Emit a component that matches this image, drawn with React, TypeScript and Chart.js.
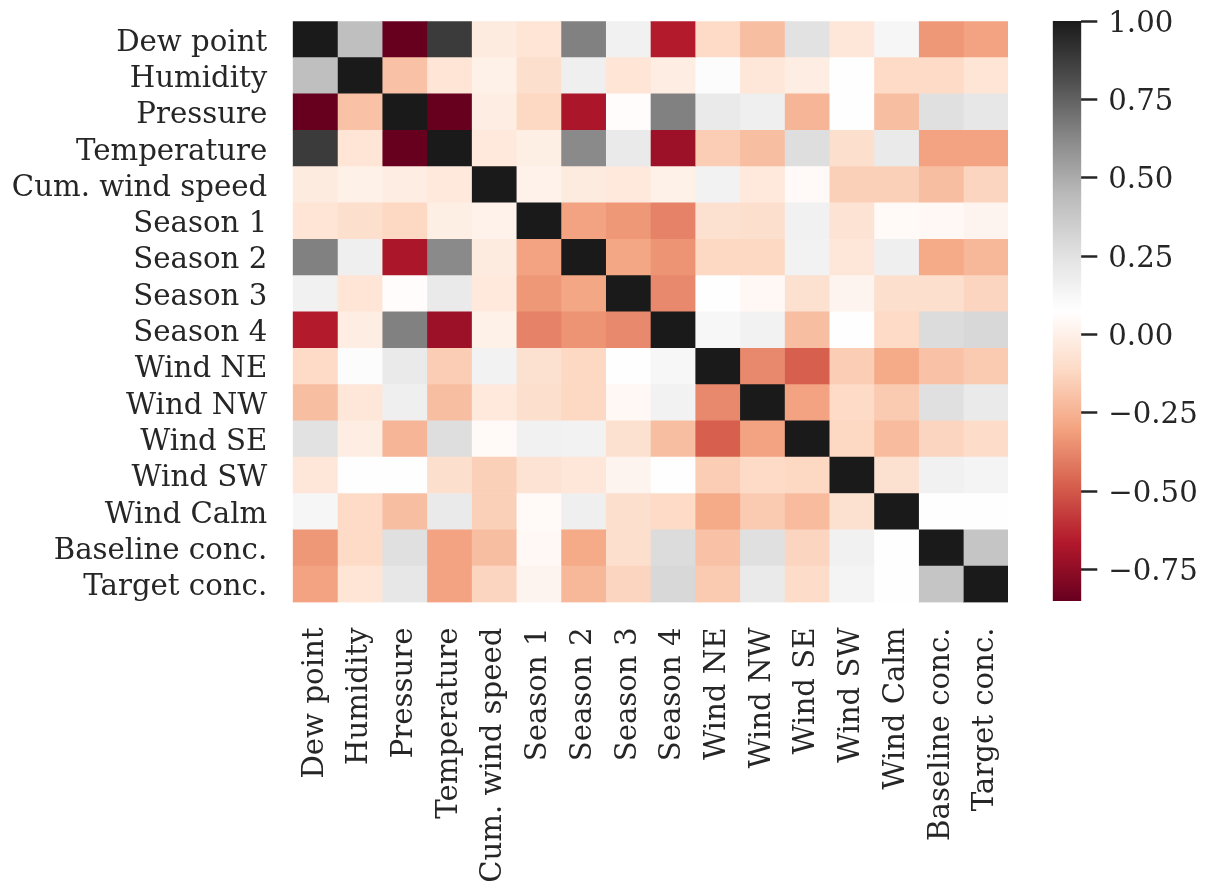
import React, { useEffect, useRef } from "react";
import { Chart, registerables } from "chart.js";

Chart.register(...registerables);

// ---------- data ----------
const variableLabels = [
  "Dew point",
  "Humidity",
  "Pressure",
  "Temperature",
  "Cum. wind speed",
  "Season 1",
  "Season 2",
  "Season 3",
  "Season 4",
  "Wind NE",
  "Wind NW",
  "Wind SE",
  "Wind SW",
  "Wind Calm",
  "Baseline conc.",
  "Target conc.",
];

const dewPoint = [1, 0.42, -0.85, 0.88, -0.03, -0.06, 0.65, 0.16, -0.66, -0.11, -0.21, 0.25, -0.05, 0.13, -0.33, -0.3];
const humidity = [0.42, 1, -0.2, -0.06, 0.0, -0.09, 0.17, -0.06, -0.02, 0.09, -0.05, -0.02, 0.07, -0.11, -0.11, -0.06];
const pressure = [-0.85, -0.2, 1, -0.85, -0.02, -0.12, -0.68, 0.06, 0.65, 0.2, 0.17, -0.24, 0.07, -0.21, 0.26, 0.22];
const temperature = [0.88, -0.06, -0.85, 1, -0.04, -0.01, 0.62, 0.2, -0.72, -0.16, -0.21, 0.27, -0.09, 0.2, -0.3, -0.3];
const cumWindSpeed = [-0.03, 0.0, -0.02, -0.04, 1, 0.01, -0.03, -0.04, 0.0, 0.15, -0.04, 0.05, -0.15, -0.15, -0.21, -0.13];
const season1 = [-0.06, -0.09, -0.12, -0.01, 0.01, 1, -0.3, -0.33, -0.39, -0.08, -0.09, 0.16, -0.07, 0.05, 0.04, 0.02];
const season2 = [0.65, 0.17, -0.68, 0.62, -0.03, -0.3, 1, -0.29, -0.34, -0.12, -0.12, 0.15, -0.05, 0.17, -0.28, -0.23];
const season3 = [0.16, -0.06, 0.06, 0.2, -0.04, -0.33, -0.29, 1, -0.37, 0.07, 0.04, -0.08, 0.02, -0.09, -0.09, -0.13];
const season4 = [-0.66, -0.02, 0.65, -0.72, 0.0, -0.39, -0.34, -0.37, 1, 0.12, 0.15, -0.21, 0.07, -0.11, 0.28, 0.3];
const windNE = [-0.11, 0.09, 0.2, -0.16, 0.15, -0.08, -0.12, 0.07, 0.12, 1, -0.37, -0.48, -0.16, -0.28, -0.2, -0.17];
const windNW = [-0.21, -0.05, 0.17, -0.21, -0.04, -0.09, -0.12, 0.04, 0.15, -0.37, 1, -0.3, -0.11, -0.17, 0.26, 0.2];
const windSE = [0.25, -0.02, -0.24, 0.27, 0.05, 0.16, 0.15, -0.08, -0.21, -0.48, -0.3, 1, -0.12, -0.22, -0.13, -0.1];
const windSW = [-0.05, 0.07, 0.07, -0.09, -0.15, -0.07, -0.05, 0.02, 0.07, -0.16, -0.11, -0.12, 1, -0.08, 0.16, 0.14];
const windCalm = [0.13, -0.11, -0.21, 0.2, -0.15, 0.05, 0.17, -0.09, -0.11, -0.28, -0.17, -0.22, -0.08, 1, 0.07, 0.07];
const baselineConc = [-0.33, -0.11, 0.26, -0.3, -0.21, 0.04, -0.28, -0.09, 0.28, -0.2, 0.26, -0.13, 0.16, 0.07, 1, 0.39];
const targetConc = [-0.3, -0.06, 0.22, -0.3, -0.13, 0.02, -0.23, -0.13, 0.3, -0.17, 0.2, -0.1, 0.14, 0.07, 0.39, 1];

const correlationRows = [
  dewPoint, humidity, pressure, temperature, cumWindSpeed,
  season1, season2, season3, season4,
  windNE, windNW, windSE, windSW, windCalm,
  baselineConc, targetConc,
];

const colorbarMin = -0.851;
const colorbarMax = 1.0;
const colorbarTicks = [-0.75, -0.5, -0.25, 0, 0.25, 0.5, 0.75, 1.0];

// ---------- styling ----------
const rdGy = [
  "#67001f", "#b2182b", "#d6604d", "#f4a582", "#fddbc7", "#ffffff",
  "#e0e0e0", "#bababa", "#878787", "#4d4d4d", "#1a1a1a",
];
const textColor = "#262626";
const labelFont = { family: "'DejaVu Serif', serif", size: 29.2 };

function hexToRgb(h: string): number[] {
  return [parseInt(h.slice(1, 3), 16), parseInt(h.slice(3, 5), 16), parseInt(h.slice(5, 7), 16)];
}
const rdGyRgb = rdGy.map(hexToRgb);

function colorFor(v: number): string {
  let t = (v - colorbarMin) / (colorbarMax - colorbarMin);
  t = Math.max(0, Math.min(1, t));
  const p = t * 10;
  const i = Math.min(9, Math.floor(p));
  const f = p - i;
  const a = rdGyRgb[i];
  const b = rdGyRgb[i + 1];
  const c = a.map((x, k) => Math.round(x + (b[k] - x) * f));
  return `rgb(${c[0]},${c[1]},${c[2]})`;
}

function fmtTick(v: number): string {
  const s = Math.abs(v).toFixed(2);
  return v < 0 ? "\u2212" + s : s;
}

const W = 1211;
const H = 887;
const areaLeft = 292.7;
const areaRight = 1008;
const areaTop = 21.3;
const areaBottom = 602.5;

const cbCanvasLeft = 1040;
const cbLeft = 1052.7;
const cbRight = 1081.3;
const cbTop = 21;
const cbBottom = 601;

export default function App() {
  const mainRef = useRef<HTMLCanvasElement | null>(null);
  const cbRef = useRef<HTMLCanvasElement | null>(null);

  useEffect(() => {
    if (!mainRef.current || !cbRef.current) return;

    const datasets = variableLabels.map((colName, j) => ({
      label: colName,
      data: correlationRows.map(() => 1),
      backgroundColor: correlationRows.map((row) => colorFor(row[j])),
      borderWidth: 0,
      barPercentage: 1,
      categoryPercentage: 1,
      stack: "cells",
    }));

    const main = new Chart(mainRef.current, {
      type: "bar",
      data: { labels: variableLabels, datasets },
      options: {
        animation: false,
        responsive: false,
        maintainAspectRatio: false,
        indexAxis: "y",
        layout: { padding: { left: 0, top: areaTop, right: W - areaRight, bottom: 0 } },
        plugins: { legend: { display: false }, tooltip: { enabled: false } },
        scales: {
          x: {
            type: "linear",
            stacked: true,
            min: 0,
            max: variableLabels.length,
            position: "bottom",
            grid: { display: false, drawTicks: false },
            border: { display: false },
            afterBuildTicks: (s: any) => {
              s.ticks = variableLabels.map((_, i) => ({ value: i + 0.5 }));
            },
            afterFit: (s: any) => {
              s.height = H - areaBottom;
              s.paddingLeft = 0;
              s.paddingRight = 0;
            },
            ticks: {
              autoSkip: false,
              minRotation: 90,
              maxRotation: 90,
              padding: 25,
              color: textColor,
              font: labelFont,
              callback: (_v: any, i: number) => variableLabels[i],
            },
          },
          y: {
            type: "category",
            stacked: true,
            grid: { display: false, drawTicks: false },
            border: { display: false },
            afterFit: (s: any) => {
              s.width = areaLeft;
              s.paddingTop = 0;
              s.paddingBottom = 0;
            },
            ticks: {
              autoSkip: false,
              padding: 25.5,
              labelOffset: 3.5,
              color: textColor,
              font: labelFont,
            },
          },
        },
      } as any,
    });

    const cb = new Chart(cbRef.current, {
      type: "bar",
      data: {
        labels: ["colorbar"],
        datasets: [
          {
            data: [[colorbarMin, colorbarMax]] as any,
            backgroundColor: (ctx: any) => {
              const chart = ctx.chart;
              const area = chart.chartArea;
              if (!area) return rdGy[5];
              const g = chart.ctx.createLinearGradient(0, area.bottom, 0, area.top);
              rdGy.forEach((c, i) => g.addColorStop(i / 10, c));
              return g;
            },
            borderWidth: 0,
            barPercentage: 1,
            categoryPercentage: 1,
          },
        ],
      },
      options: {
        animation: false,
        responsive: false,
        maintainAspectRatio: false,
        layout: {
          padding: { left: cbLeft - cbCanvasLeft, top: cbTop, right: 0, bottom: H - cbBottom },
        },
        plugins: { legend: { display: false }, tooltip: { enabled: false } },
        scales: {
          x: { display: false },
          y: {
            type: "linear",
            position: "right",
            min: colorbarMin,
            max: colorbarMax,
            afterBuildTicks: (s: any) => {
              s.ticks = colorbarTicks.map((v) => ({ value: v }));
            },
            afterFit: (s: any) => {
              s.width = W - cbCanvasLeft - (cbRight - cbCanvasLeft);
              s.paddingTop = 0;
              s.paddingBottom = 0;
            },
            grid: {
              drawOnChartArea: false,
              drawTicks: true,
              tickLength: 16,
              tickWidth: 2.5,
              tickColor: textColor,
            },
            border: { display: false },
            ticks: {
              padding: 11,
              labelOffset: 3,
              color: textColor,
              font: labelFont,
              callback: (v: any) => fmtTick(Number(v)),
            },
          },
        },
      } as any,
    });

    return () => {
      main.destroy();
      cb.destroy();
    };
  }, []);

  return (
    <div style={{ position: "absolute", left: 0, top: 0, width: W, height: H, background: "#ffffff" }}>
      <canvas
        ref={mainRef}
        width={W}
        height={H}
        style={{ position: "absolute", left: 0, top: 0, width: W, height: H, display: "block" }}
      />
      <canvas
        ref={cbRef}
        width={W - cbCanvasLeft}
        height={H}
        style={{ position: "absolute", left: cbCanvasLeft, top: 0, width: W - cbCanvasLeft, height: H, display: "block" }}
      />
    </div>
  );
}
